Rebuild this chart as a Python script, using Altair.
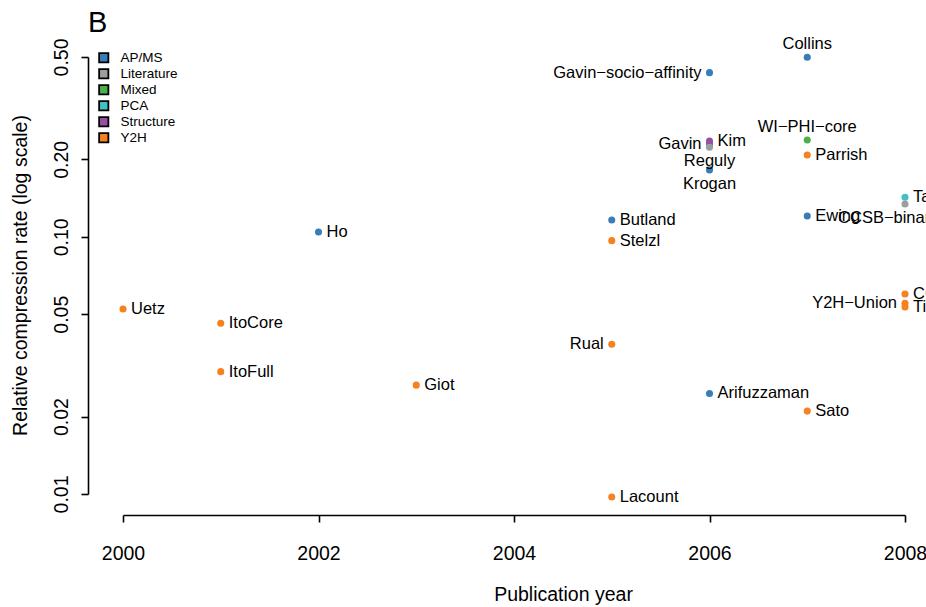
import altair as alt
import pandas as pd

# ---- data ----
names = ["Uetz", "ItoCore", "ItoFull", "Ho", "Giot", "Butland", "Stelzl", "Rual", "Lacount",
         "Gavin\u2212socio\u2212affinity", "Gavin", "Kim", "Reguly", "Krogan", "Arifuzzaman",
         "Collins", "WI\u2212PHI\u2212core", "Parrish", "Ewing", "Sato",
         "Tarassov", "CCSB\u2212binary\u2212GS", "CCSB\u2212YI1", "Y2H\u2212Union", "Titz"]
years = [2000, 2001, 2001, 2002, 2003, 2005, 2005, 2005, 2005,
         2006, 2006, 2006, 2006, 2006, 2006,
         2007, 2007, 2007, 2007, 2007,
         2008, 2008, 2008, 2008, 2008]
rates = [0.0524, 0.0461, 0.0299, 0.1044, 0.0265, 0.1163, 0.0966, 0.0382, 0.00973,
         0.4346, 0.2296, 0.2358, 0.2228, 0.182, 0.0246,
         0.499, 0.2378, 0.208, 0.1205, 0.0210,
         0.1424, 0.1341, 0.0599, 0.0552, 0.0533]
methods = ["Y2H", "Y2H", "Y2H", "AP/MS", "Y2H", "AP/MS", "Y2H", "Y2H", "Y2H",
           "AP/MS", "AP/MS", "Structure", "Literature", "AP/MS", "AP/MS",
           "AP/MS", "Mixed", "Y2H", "AP/MS", "Y2H",
           "PCA", "Literature", "Y2H", "Y2H", "Y2H"]
label_side = ["right", "right", "right", "right", "right", "right", "right", "left", "right",
              "left", "left", "right", "below", "below", "right",
              "above", "above", "right", "right", "right",
              "right", "below", "right", "left", "right"]

method_order = ["AP/MS", "Literature", "Mixed", "PCA", "Structure", "Y2H"]
method_colors = ["#377EB8", "#9E9E9E", "#4DAF4A", "#41C0C6", "#984EA3", "#F5811F"]

x_ticks = [2000, 2002, 2004, 2006, 2008]
y_ticks = [0.01, 0.02, 0.05, 0.10, 0.20, 0.50]

panel_letter = ["B"]

df = pd.DataFrame({"name": names, "year": years, "rate": rates,
                   "method": methods, "side": label_side})

FONT = "Liberation Sans"

x_enc = alt.X("year:Q",
              scale=alt.Scale(domain=[2000, 2008], nice=False, zero=False),
              axis=alt.Axis(values=x_ticks, format="d", title="Publication year",
                            offset=21, grid=False, domainColor="black", domainWidth=1.6,
                            tickColor="black", tickWidth=1.6, tickSize=7,
                            labelFont=FONT, labelFontSize=19.5, labelColor="black",
                            labelPadding=22, labelFlush=False,
                            titleFont=FONT, titleFontSize=19.5, titleFontWeight="normal",
                            titleColor="black", titleX=440, titleY=85,
                            titleBaseline="alphabetic", titleAlign="center"))
y_enc = alt.Y("rate:Q",
              scale=alt.Scale(type="log", domain=[0.01, 0.5], nice=False),
              axis=alt.Axis(values=y_ticks, format=".2f",
                            title="Relative compression rate (log scale)",
                            offset=35, grid=False, domainColor="black", domainWidth=1.6,
                            tickColor="black", tickWidth=1.6, tickSize=7,
                            labelFont=FONT, labelFontSize=19.5, labelColor="black",
                            labelAngle=-90, labelAlign="center", labelBaseline="bottom",
                            labelPadding=10,
                            titleFont=FONT, titleFontSize=19.5, titleFontWeight="normal",
                            titleColor="black", titleAngle=-90, titleX=-62, titleY=218,
                            titleBaseline="alphabetic", titleAlign="center"))

base = alt.Chart(df)

points = base.mark_circle(size=50, opacity=1).encode(
    x=x_enc, y=y_enc,
    color=alt.Color("method:N",
                    scale=alt.Scale(domain=method_order, range=method_colors),
                    legend=alt.Legend(title=None, orient="none", legendX=-26, legendY=-6,
                                      symbolType="square", symbolSize=85,
                                      symbolStrokeColor="black", symbolStrokeWidth=1.8,
                                      symbolOpacity=1,
                                      labelFont=FONT, labelFontSize=13.5, labelColor="black",
                                      labelOffset=10, rowPadding=-1, padding=0)))

def labels(side, **kw):
    return base.transform_filter(alt.datum.side == side).mark_text(
        font=FONT, fontSize=16.5, color="black", **kw
    ).encode(x="year:Q", y="rate:Q", text="name:N")

t_right = labels("right", align="left", baseline="middle", dx=8)
t_left = labels("left", align="right", baseline="middle", dx=-8)
t_above = labels("above", align="center", baseline="alphabetic", dy=-8)
t_below = labels("below", align="center", baseline="alphabetic", dy=19)

letter = alt.Chart(pd.DataFrame({"t": panel_letter})).mark_text(
    font=FONT, fontSize=29, color="black", align="left", baseline="alphabetic"
).encode(x=alt.value(-35), y=alt.value(-25), text="t:N")

chart = alt.layer(points, t_right, t_left, t_above, t_below, letter).properties(
    width=782, height=437,
    padding={"left": 123, "top": 57, "right": 21, "bottom": 113},
    autosize=alt.AutoSizeParams(type="none"),
    background="white",
).configure_view(strokeWidth=0, stroke="transparent")

chart.save("out.html", embed_options={"renderer": "svg", "actions": False})
